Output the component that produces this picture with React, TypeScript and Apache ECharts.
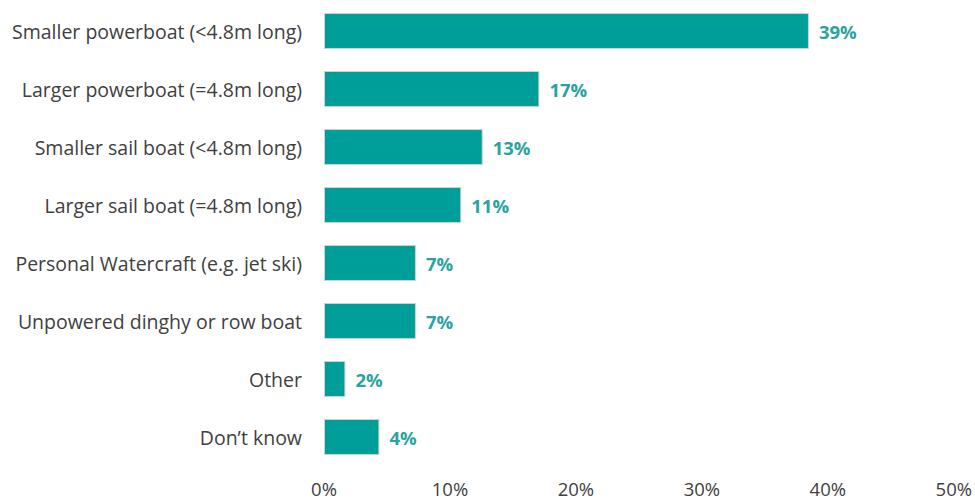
import React, { useEffect, useRef } from "react";
import * as echarts from "echarts";

const categories = [
  "Smaller powerboat (<4.8m long)",
  "Larger powerboat (=4.8m long)",
  "Smaller sail boat (<4.8m long)",
  "Larger sail boat (=4.8m long)",
  "Personal Watercraft (e.g. jet ski)",
  "Unpowered dinghy or row boat",
  "Other",
  "Don\u2019t know",
];
const values = [38.5, 17.1, 12.6, 10.9, 7.3, 7.3, 1.7, 4.4];
const valueLabels = ["39%", "17%", "13%", "11%", "7%", "7%", "2%", "4%"];
const xTicks = [0, 10, 20, 30, 40, 50];

const FONT = "Open Sans";

export default function App() {
  const ref = useRef<HTMLDivElement>(null);
  useEffect(() => {
    const chart = echarts.init(ref.current!, null, { renderer: "svg" });
    chart.setOption({
      animation: false,
      textStyle: { fontFamily: FONT },
      grid: { left: 324, right: 20, top: 2, bottom: 34, containLabel: false },
      xAxis: {
        type: "value",
        min: xTicks[0],
        max: xTicks[xTicks.length - 1],
        interval: 10,
        axisLine: { show: false },
        axisTick: { show: false },
        splitLine: { show: false },
        axisLabel: {
          formatter: (v: number) => v + "%",
          color: "#404040",
          fontSize: 18.5,
          fontFamily: FONT,
          margin: 13,
        },
      },
      yAxis: {
        type: "category",
        data: categories,
        inverse: true,
        axisLine: { show: false },
        axisTick: { show: false },
        axisLabel: {
          color: "#404040",
          fontSize: 19.5,
          fontFamily: FONT,
          margin: 22,
        },
      },
      series: [
        {
          type: "bar",
          data: values,
          barCategoryGap: "38%",
          itemStyle: { color: "#009e98", borderColor: "#d0d0d0", borderWidth: 1 },
          label: {
            show: true,
            position: "right",
            distance: 10,
            formatter: (p: any) => valueLabels[p.dataIndex],
            color: "#2aa3a0",
            fontWeight: "bold",
            fontSize: 18.5,
            fontFamily: FONT,
          },
        },
      ],
    });
    return () => chart.dispose();
  }, []);
  return <div ref={ref} style={{ width: 975, height: 500, position: "absolute", left: 0, top: 0, background: "#fff" }} />;
}
